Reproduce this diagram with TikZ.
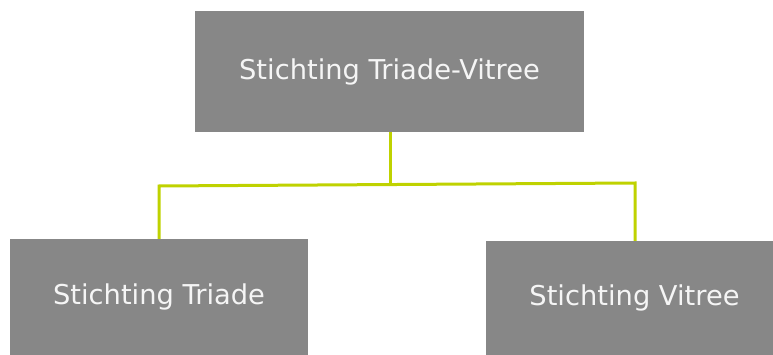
\documentclass[tikz,border=0pt]{standalone}
\usepackage{fontspec}
\setmainfont{DejaVu Sans}
\definecolor{boxgray}{HTML}{878787}
\definecolor{linegreen}{HTML}{BFD200}
\tikzset{orgbox/.style={fill=boxgray, text=white!96!black, inner sep=0pt, font=\fontsize{27.3}{32}\selectfont},
orgline/.style={draw=linegreen, line width=3pt}}

\begin{document}
\begin{tikzpicture}[x=1pt,y=-1pt]
\useasboundingbox (0,0) rectangle (773,355);
\node[orgbox, minimum width=389pt, minimum height=121pt] (triadevitree) at (389.5,71.5) {Stichting Triade-Vitree};
\node[orgbox, minimum width=298pt, minimum height=116pt] (triade) at (159,297) {Stichting Triade};
\node[orgbox, minimum width=287pt, minimum height=114pt] (vitree) at (629.5,298) {\hspace*{10pt}Stichting Vitree};
\coordinate (split) at (390,184.5);
\coordinate (leftturn) at (159,186);
\coordinate (rightturn) at (635,183);
\draw[orgline] (triadevitree.south -| split) -- (split);
\draw[orgline] (triade.north -| leftturn) -- (leftturn) -- (rightturn) -- (vitree.north -| rightturn);
\end{tikzpicture}
\end{document}
